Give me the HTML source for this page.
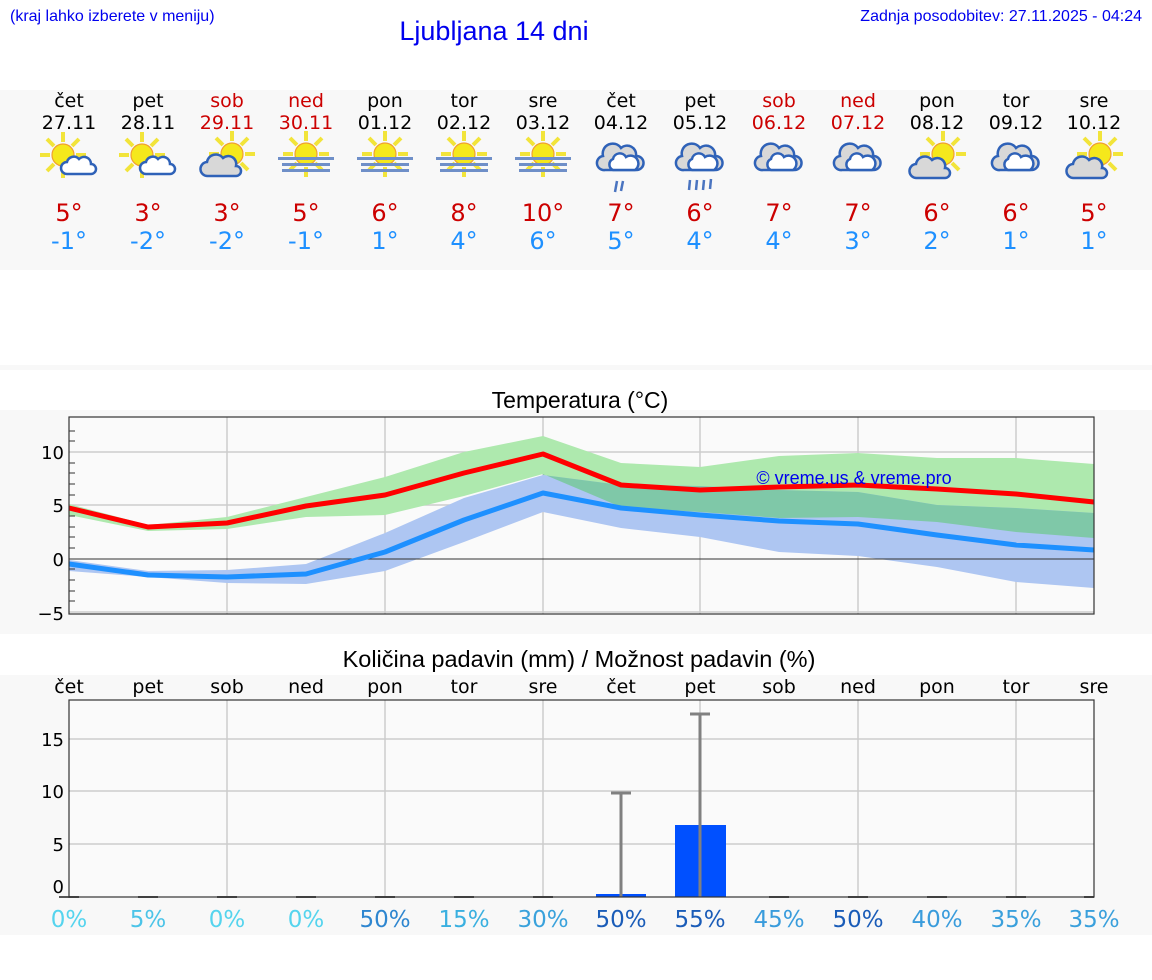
<!DOCTYPE html>
<html><head><meta charset="utf-8"><style>
html,body{margin:0;padding:0;background:#fff;}
body{width:1152px;height:975px;overflow:hidden;}
svg text{font-family:"DejaVu Sans","Liberation Sans",sans-serif;}
</style></head><body>
<svg width="1152" height="975" viewBox="0 0 1152 975" xmlns="http://www.w3.org/2000/svg">
<defs>
<g id="sun">
  <g stroke="#f2e43a" stroke-width="4" stroke-linecap="butt">
    <line x1="0" y1="-13" x2="0" y2="-23"/><line x1="0" y1="13" x2="0" y2="23"/>
    <line x1="-13" y1="0" x2="-23" y2="0"/><line x1="13" y1="0" x2="23" y2="0"/>
    <line x1="9" y1="-9" x2="16" y2="-16"/><line x1="-9" y1="-9" x2="-16" y2="-16"/>
    <line x1="9" y1="9" x2="16" y2="16"/><line x1="-9" y1="9" x2="-16" y2="16"/>
  </g>
  <circle r="11" fill="#f5e81c" stroke="#f0a030" stroke-width="1.2"/>
</g>
<g id="wcloud">
  <path d="M-12,8 a6,6 0 0 1 0,-12 a7,7 0 0 1 12,-3 a7,7 0 0 1 12,5 a5,5 0 0 1 0,10 z" fill="#fff" stroke="#2f62b8" stroke-width="2.5"/>
</g>
<g id="gcloud">
  <path d="M-14,10 a7,7 0 0 1 -1,-14 a9,9 0 0 1 16,-4 a8,8 0 0 1 13,8 a5,5 0 0 1 0,10 z" fill="#d8d8d8" stroke="#2f62b8" stroke-width="2.5"/>
</g>
<g id="bigcloud">
  <path d="M-16,12 a7,7 0 0 1 -2,-14 a10,10 0 0 1 18,-8 a9,9 0 0 1 15,8 a7,7 0 0 1 1,14 z" fill="#d8d8d8" stroke="#2f62b8" stroke-width="2.5"/>
  <path d="M-8,12 a6,6 0 0 1 0,-11 a7,7 0 0 1 13,-2 a6,6 0 0 1 9,13 z" fill="#fff" stroke="#2f62b8" stroke-width="2.5"/>
</g>
<g id="i1"><use href="#sun" x="-6" y="-3"/><use href="#wcloud" x="10" y="8"/></g>
<g id="i2"><use href="#sun" x="5" y="-4"/><use href="#gcloud" x="-5" y="8"/></g>
<g id="i3"><use href="#sun" x="0" y="-4"/>
  <rect x="-28" y="-1" width="56" height="3" fill="#6f8fc8"/><rect x="-24" y="5" width="48" height="3" fill="#6f8fc8"/><rect x="-24" y="11" width="48" height="3" fill="#6f8fc8"/></g>
<g id="i4"><use href="#bigcloud" x="0" y="-2"/></g>
<g id="i5"><use href="#sun" x="6" y="-6"/><use href="#gcloud" x="-6" y="8"/></g>
</defs>

<!-- header -->
<text x="10" y="21" font-size="16" fill="#0000ee" style='font-family:"Liberation Sans",sans-serif'>(kraj lahko izberete v meniju)</text>
<text x="494" y="40" font-size="27" fill="#0000ee" text-anchor="middle" style='font-family:"Liberation Sans",sans-serif'>Ljubljana 14 dni</text>
<text x="1142" y="21" font-size="16" fill="#0000ee" text-anchor="end" style='font-family:"Liberation Sans",sans-serif'>Zadnja posodobitev: 27.11.2025 - 04:24</text>

<!-- top panel -->
<rect x="0" y="90" width="1152" height="180" fill="#f8f8f8"/>
<rect x="0" y="365" width="1152" height="5" fill="#f8f8f8"/>
<g font-size="19" text-anchor="middle">
<text x="69" y="107">čet</text><text x="148" y="107">pet</text><text x="227" y="107" fill="#cc0000">sob</text><text x="306" y="107" fill="#cc0000">ned</text><text x="385" y="107">pon</text><text x="464" y="107">tor</text><text x="543" y="107">sre</text><text x="621" y="107">čet</text><text x="700" y="107">pet</text><text x="779" y="107" fill="#cc0000">sob</text><text x="858" y="107" fill="#cc0000">ned</text><text x="937" y="107">pon</text><text x="1016" y="107">tor</text><text x="1094" y="107">sre</text>
<text x="69" y="129">27.11</text><text x="148" y="129">28.11</text><text x="227" y="129" fill="#cc0000">29.11</text><text x="306" y="129" fill="#cc0000">30.11</text><text x="385" y="129">01.12</text><text x="464" y="129">02.12</text><text x="543" y="129">03.12</text><text x="621" y="129">04.12</text><text x="700" y="129">05.12</text><text x="779" y="129" fill="#cc0000">06.12</text><text x="858" y="129" fill="#cc0000">07.12</text><text x="937" y="129">08.12</text><text x="1016" y="129">09.12</text><text x="1094" y="129">10.12</text>
</g>
<use href="#i1" x="69" y="158"/><use href="#i1" x="148" y="158"/><use href="#i2" x="227" y="158"/>
<use href="#i3" x="306" y="158"/><use href="#i3" x="385" y="158"/><use href="#i3" x="464" y="158"/><use href="#i3" x="543" y="158"/>
<use href="#i4" x="621" y="160"/><use href="#i4" x="700" y="160"/><use href="#i4" x="779" y="160"/><use href="#i4" x="858" y="160"/>
<use href="#i5" x="937" y="160"/><use href="#i4" x="1016" y="160"/><use href="#i5" x="1094" y="160"/>
<g stroke="#4a74c0" stroke-width="2.5">
<line x1="617" y1="181" x2="615" y2="192"/><line x1="623" y1="181" x2="621" y2="191"/>
<line x1="690" y1="180" x2="689" y2="190"/><line x1="697" y1="180" x2="696" y2="190"/><line x1="704" y1="180" x2="703" y2="190"/><line x1="711" y1="179" x2="710" y2="189"/>
</g>
<g font-size="24" text-anchor="middle" fill="#cc0000">
<text x="69" y="221">5°</text><text x="148" y="221">3°</text><text x="227" y="221">3°</text><text x="306" y="221">5°</text><text x="385" y="221">6°</text><text x="464" y="221">8°</text><text x="543" y="221">10°</text><text x="621" y="221">7°</text><text x="700" y="221">6°</text><text x="779" y="221">7°</text><text x="858" y="221">7°</text><text x="937" y="221">6°</text><text x="1016" y="221">6°</text><text x="1094" y="221">5°</text>
</g>
<g font-size="24" text-anchor="middle" fill="#1e90ff">
<text x="69" y="249">-1°</text><text x="148" y="249">-2°</text><text x="227" y="249">-2°</text><text x="306" y="249">-1°</text><text x="385" y="249">1°</text><text x="464" y="249">4°</text><text x="543" y="249">6°</text><text x="621" y="249">5°</text><text x="700" y="249">4°</text><text x="779" y="249">4°</text><text x="858" y="249">3°</text><text x="937" y="249">2°</text><text x="1016" y="249">1°</text><text x="1094" y="249">1°</text>
</g>

<!-- temperature chart -->
<rect x="0" y="410" width="1152" height="224" fill="#f8f8f8"/>
<text x="580" y="408" font-size="23" text-anchor="middle" style='font-family:"Liberation Sans",sans-serif'>Temperatura (°C)</text>
<rect x="69" y="417" width="1025" height="197" fill="#fafafa"/>
<g stroke="#cccccc" stroke-width="1.5">
<line x1="69" y1="452" x2="1094" y2="452"/><line x1="69" y1="505" x2="1094" y2="505"/><line x1="69" y1="612" x2="1094" y2="612"/>
<line x1="227" y1="417" x2="227" y2="614"/><line x1="385" y1="417" x2="385" y2="614"/><line x1="543" y1="417" x2="543" y2="614"/><line x1="700" y1="417" x2="700" y2="614"/><line x1="858" y1="417" x2="858" y2="614"/><line x1="1016" y1="417" x2="1016" y2="614"/>
</g>
<polygon fill="#aee9ae" points="69,504 148,525 227,517 306,497 385,477 464,452 543,436 621,463 700,467 779,456 858,453 937,458 1016,458 1094,464 1094,538 1016,532 937,522 858,517 779,518 700,512 621,507 543,474 464,496 385,515 306,517 227,529 148,531 69,515"/>
<polygon fill="#aec6f2" points="69,560 148,571 227,570 306,564 385,533 464,498 543,475 621,485 700,486 779,490 858,492 937,505 1016,508 1094,513 1094,588 1016,582 937,567 858,556 779,552 700,537 621,528 543,512 464,542 385,571 306,584 227,583 148,577 69,571"/>
<polygon fill="#7fc8a8" points="543,475 621,485 700,486 779,490 858,492 937,505 1016,508 1094,513 1094,538 1016,532 937,522 858,517 779,518 700,512 621,507 543,474"/>
<line x1="69" y1="559" x2="1094" y2="559" stroke="#333" stroke-width="1"/>
<polyline fill="none" stroke="#ff0000" stroke-width="5" stroke-linejoin="round" points="69,508 148,527 227,523 306,506 385,495 464,473 543,454 621,485 700,490 779,487 858,485 937,489 1016,494 1094,502"/>
<polyline fill="none" stroke="#1e90ff" stroke-width="5" stroke-linejoin="round" points="69,564 148,575 227,577 306,574 385,552 464,520 543,493 621,508 700,515 779,521 858,524 937,535 1016,545 1094,550"/>
<text x="854" y="484" font-size="18" fill="#0000ee" text-anchor="middle" style='font-family:"Liberation Sans",sans-serif'>© vreme.us &amp; vreme.pro</text>
<rect x="69" y="417" width="1025" height="197" fill="none" stroke="#333" stroke-width="1.2"/>
<g stroke="#333" stroke-width="1">
<line x1="69" y1="431" x2="75" y2="431"/><line x1="69" y1="441" x2="75" y2="441"/><line x1="69" y1="463" x2="75" y2="463"/><line x1="69" y1="473" x2="75" y2="473"/><line x1="69" y1="484" x2="75" y2="484"/><line x1="69" y1="495" x2="75" y2="495"/><line x1="69" y1="516" x2="75" y2="516"/><line x1="69" y1="527" x2="75" y2="527"/><line x1="69" y1="537" x2="75" y2="537"/><line x1="69" y1="548" x2="75" y2="548"/><line x1="69" y1="569" x2="75" y2="569"/><line x1="69" y1="580" x2="75" y2="580"/><line x1="69" y1="591" x2="75" y2="591"/><line x1="69" y1="601" x2="75" y2="601"/>
</g>
<g font-size="18" text-anchor="end">
<text x="64" y="459">10</text><text x="64" y="512">5</text><text x="64" y="566">0</text><text x="64" y="620">−5</text>
</g>

<!-- precipitation chart -->
<text x="579" y="667" font-size="23.5" text-anchor="middle" style='font-family:"Liberation Sans",sans-serif'>Količina padavin (mm) / Možnost padavin (%)</text>
<rect x="0" y="675" width="1152" height="260" fill="#f8f8f8"/>
<g font-size="19" text-anchor="middle">
<text x="69" y="693">čet</text><text x="148" y="693">pet</text><text x="227" y="693">sob</text><text x="306" y="693">ned</text><text x="385" y="693">pon</text><text x="464" y="693">tor</text><text x="543" y="693">sre</text><text x="621" y="693">čet</text><text x="700" y="693">pet</text><text x="779" y="693">sob</text><text x="858" y="693">ned</text><text x="937" y="693">pon</text><text x="1016" y="693">tor</text><text x="1094" y="693">sre</text>
</g>
<rect x="69" y="700" width="1025" height="197" fill="#fafafa"/>
<g stroke="#cccccc" stroke-width="1.5">
<line x1="69" y1="739" x2="1094" y2="739"/><line x1="69" y1="791" x2="1094" y2="791"/><line x1="69" y1="844" x2="1094" y2="844"/>
<line x1="227" y1="700" x2="227" y2="897"/><line x1="385" y1="700" x2="385" y2="897"/><line x1="543" y1="700" x2="543" y2="897"/><line x1="700" y1="700" x2="700" y2="897"/><line x1="858" y1="700" x2="858" y2="897"/><line x1="1016" y1="700" x2="1016" y2="897"/>
</g>
<rect x="596" y="894" width="50" height="3" fill="#0050ff"/>
<rect x="675" y="825" width="51" height="72" fill="#0050ff"/>
<g stroke="#808080" stroke-width="3">
<line x1="621" y1="793" x2="621" y2="897"/><line x1="611" y1="793" x2="631" y2="793"/>
<line x1="700" y1="714" x2="700" y2="897"/><line x1="690" y1="714" x2="710" y2="714"/>
</g>
<g stroke="#555" stroke-width="2">
<line x1="59" y1="897" x2="79" y2="897"/><line x1="138" y1="897" x2="158" y2="897"/><line x1="217" y1="897" x2="237" y2="897"/><line x1="296" y1="897" x2="316" y2="897"/><line x1="375" y1="897" x2="395" y2="897"/><line x1="454" y1="897" x2="474" y2="897"/><line x1="533" y1="897" x2="553" y2="897"/><line x1="769" y1="897" x2="789" y2="897"/><line x1="848" y1="897" x2="868" y2="897"/><line x1="927" y1="897" x2="947" y2="897"/><line x1="1006" y1="897" x2="1026" y2="897"/><line x1="1084" y1="897" x2="1094" y2="897"/>
</g>
<rect x="69" y="700" width="1025" height="197" fill="none" stroke="#333" stroke-width="1.2"/>
<g font-size="18" text-anchor="end">
<text x="64" y="746">15</text><text x="64" y="798">10</text><text x="64" y="851">5</text><text x="64" y="893">0</text>
</g>
<g font-size="23" text-anchor="middle">
<text x="69" y="927" fill="#55d4ee">0%</text><text x="148" y="927" fill="#4cc4e8">5%</text><text x="227" y="927" fill="#55d4ee">0%</text><text x="306" y="927" fill="#55d4ee">0%</text><text x="385" y="927" fill="#2e86d0">50%</text><text x="464" y="927" fill="#3ab0e0">15%</text><text x="543" y="927" fill="#3aa2dc">30%</text><text x="621" y="927" fill="#1a5cb8">50%</text><text x="700" y="927" fill="#1a5cb8">55%</text><text x="779" y="927" fill="#3a9cdc">45%</text><text x="858" y="927" fill="#1a5cb8">50%</text><text x="937" y="927" fill="#3a9cdc">40%</text><text x="1016" y="927" fill="#3aa0dc">35%</text><text x="1094" y="927" fill="#3aa0dc">35%</text>
</g>
</svg>
</body></html>
